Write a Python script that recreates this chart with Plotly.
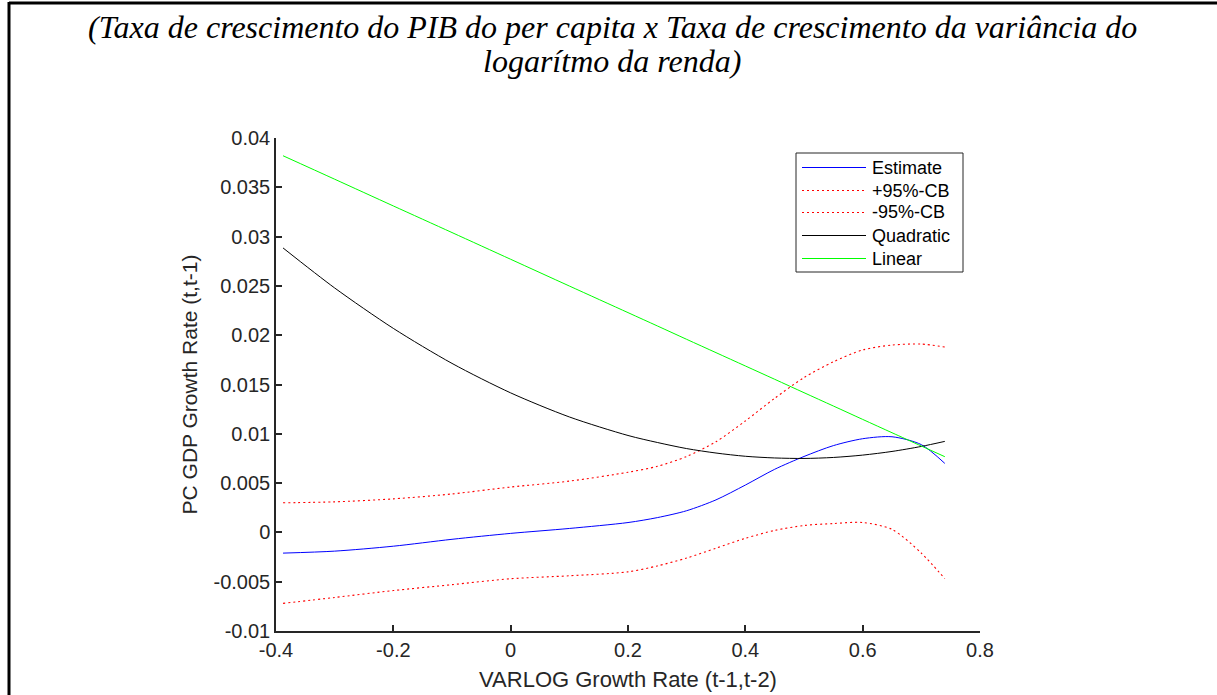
import plotly.graph_objects as go

# Data
x_grid = [-0.388, -0.3, -0.2, -0.1, 0.0, 0.1, 0.2, 0.25, 0.3, 0.35, 0.4, 0.45, 0.5, 0.55, 0.6, 0.65, 0.7, 0.74]
estimate = [-0.0021, -0.0019, -0.0014, -0.0007, -0.0001, 0.0004, 0.0010, 0.0015, 0.0022, 0.0033, 0.0048, 0.0064, 0.0077, 0.0088, 0.0095, 0.0097, 0.0089, 0.0070]
upper_cb = [0.0030, 0.0031, 0.0034, 0.0039, 0.0046, 0.0052, 0.0061, 0.0067, 0.0077, 0.0092, 0.0113, 0.0136, 0.0157, 0.0173, 0.0185, 0.0190, 0.0191, 0.0188]
lower_cb = [-0.0072, -0.0066, -0.0059, -0.0053, -0.0047, -0.0044, -0.0040, -0.0034, -0.0026, -0.0016, -0.0006, 0.0002, 0.0007, 0.0009, 0.0010, 0.0003, -0.0021, -0.0047]
quadratic = [0.02885, 0.02479, 0.02069, 0.01714, 0.01415, 0.01171, 0.00983, 0.00912, 0.00850, 0.00805, 0.00772, 0.00755, 0.00750, 0.00760, 0.00784, 0.00821, 0.00872, 0.00923]
linear = [0.0382, 0.03582, 0.03311, 0.03041, 0.0277, 0.02499, 0.02229, 0.02094, 0.01958, 0.01823, 0.01688, 0.01553, 0.01417, 0.01282, 0.01146, 0.01011, 0.00876, 0.00768]

series_names = ["Estimate", "+95%-CB", "-95%-CB", "Quadratic", "Linear"]

x_ticks = [-0.4, -0.2, 0, 0.2, 0.4, 0.6, 0.8]
x_tick_labels = ["-0.4", "-0.2", "0", "0.2", "0.4", "0.6", "0.8"]
y_ticks = [-0.01, -0.005, 0, 0.005, 0.01, 0.015, 0.02, 0.025, 0.03, 0.035, 0.04]
y_tick_labels = ["-0.01", "-0.005", "0", "0.005", "0.01", "0.015", "0.02", "0.025", "0.03", "0.035", "0.04"]

title_lines = ["(Taxa de crescimento do PIB do per capita x Taxa de crescimento da variância do",
               "logarítmo da renda)"]

W, H = 1217, 695
L, R, T, B = 276, 980, 138, 631


def px_to_paper_x(px):
    return (px - L) / (R - L)


def px_to_paper_y(py):
    return (B - py) / (B - T)


dot = "2px,3px"
styles = [
    dict(color="#0000FF", width=1),
    dict(color="#FF0000", width=1.1, dash=dot),
    dict(color="#FF0000", width=1.1, dash=dot),
    dict(color="#000000", width=1),
    dict(color="#00FF00", width=1),
]
series_values = [estimate, upper_cb, lower_cb, quadratic, linear]

fig = go.Figure()
for name, vals, st in zip(series_names, series_values, styles):
    fig.add_trace(go.Scatter(x=x_grid, y=vals, name=name, mode="lines",
                             line=dict(shape="spline", smoothing=0.8, **st),
                             showlegend=False))

axis_font = dict(family="Liberation Sans, Arial, sans-serif", size=20, color="#262626")

fig.update_layout(
    width=W, height=H,
    margin=dict(l=L, r=W - R, t=T, b=H - B, pad=0, autoexpand=False),
    paper_bgcolor="white", plot_bgcolor="white",
    xaxis=dict(range=[-0.4, 0.8], tickvals=x_ticks, ticktext=x_tick_labels, automargin=False,
               ticks="inside", ticklen=6, tickwidth=1.5, tickcolor="#262626",
               showline=True, linecolor="#262626", linewidth=1.5, showgrid=False, zeroline=False,
               tickfont=axis_font,
               title=dict(text="VARLOG Growth Rate (t-1,t-2)",
                          font=dict(axis_font, size=22), standoff=12)),
    yaxis=dict(range=[-0.01, 0.04], tickvals=y_ticks, ticktext=y_tick_labels, automargin=False,
               ticks="inside", ticklen=6, tickwidth=1.5, tickcolor="#262626",
               showline=True, linecolor="#262626", linewidth=1.5, showgrid=False, zeroline=False,
               tickfont=axis_font,
               title=dict(text="PC GDP Growth Rate (t,t-1)",
                          font=dict(axis_font, size=21), standoff=10)),
    showlegend=False,
)

# Title (two centred lines, italic serif)
title_font = dict(family="Liberation Serif, Times New Roman, serif", size=32, color="black", style="italic")
for line_text, yc in zip(title_lines, [27, 61]):
    fig.add_annotation(text=line_text, xref="paper", yref="paper",
                       x=px_to_paper_x(612), y=px_to_paper_y(yc),
                       xanchor="center", yanchor="middle", showarrow=False, font=title_font)

# Legend box drawn like the reference (MATLAB style)
box_l, box_r, box_t, box_b = 796, 963, 153, 272
fig.add_shape(type="rect", xref="paper", yref="paper",
              x0=px_to_paper_x(box_l), x1=px_to_paper_x(box_r),
              y0=px_to_paper_y(box_b), y1=px_to_paper_y(box_t),
              line=dict(color="#262626", width=1), fillcolor="white", layer="above")
entry_y = [167.5, 190.5, 212.5, 235.5, 258.5]
legend_font = dict(family="Liberation Sans, Arial, sans-serif", size=18, color="black")
for name, st, yc in zip(series_names, styles, entry_y):
    fig.add_shape(type="line", xref="paper", yref="paper",
                  x0=px_to_paper_x(802), x1=px_to_paper_x(866),
                  y0=px_to_paper_y(yc), y1=px_to_paper_y(yc),
                  line=st, layer="above")
    fig.add_annotation(text=name, xref="paper", yref="paper",
                       x=px_to_paper_x(870), y=px_to_paper_y(yc),
                       xanchor="left", yanchor="middle", showarrow=False, font=legend_font)

# Figure frame lines (top and left) as in the reference
fig.add_shape(type="line", xref="paper", yref="paper",
              x0=px_to_paper_x(9), x1=px_to_paper_x(W + 5), y0=px_to_paper_y(3), y1=px_to_paper_y(3),
              line=dict(color="black", width=3))
fig.add_shape(type="line", xref="paper", yref="paper",
              x0=px_to_paper_x(9), x1=px_to_paper_x(9), y0=px_to_paper_y(2), y1=px_to_paper_y(H + 5),
              line=dict(color="black", width=3))

fig.write_html("out.html")
